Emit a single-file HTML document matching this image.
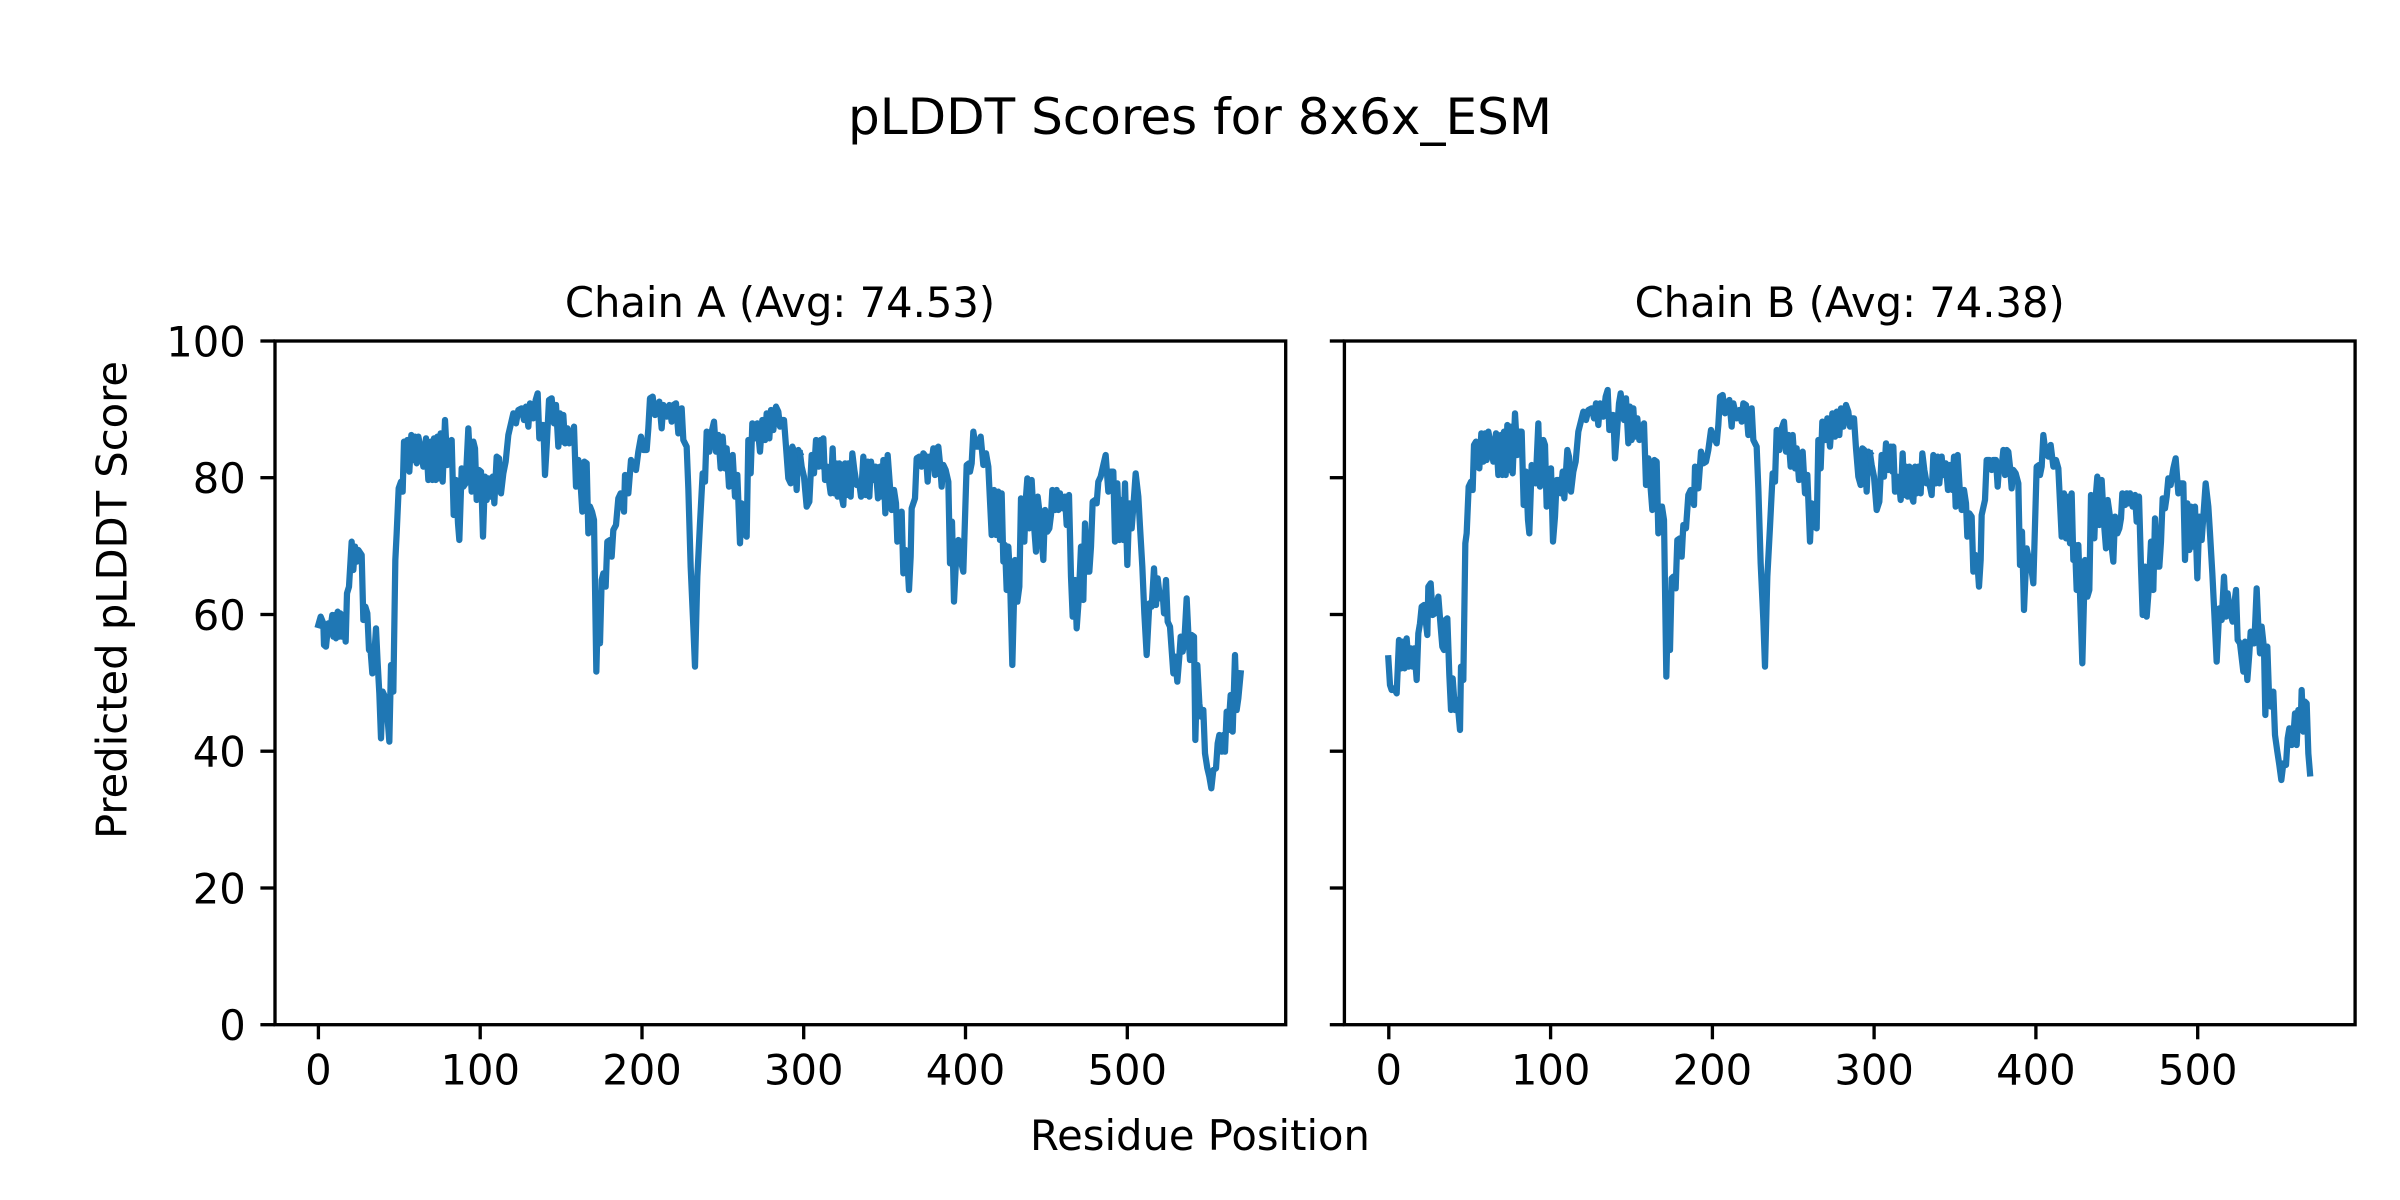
<!DOCTYPE html>
<html>
<head>
<meta charset="utf-8">
<style>
html,body{margin:0;padding:0;background:#fff;}
svg{display:block;}
text{font-family:"DejaVu Sans","Liberation Sans",sans-serif;fill:#000;}
</style>
</head>
<body>
<svg width="2400" height="1200" viewBox="0 0 2400 1200" xmlns="http://www.w3.org/2000/svg">
<rect x="0" y="0" width="2400" height="1200" fill="#fff"/>

<!-- Suptitle -->
<text x="1200" y="134" font-size="50" text-anchor="middle">pLDDT Scores for 8x6x_ESM</text>

<!-- Axes titles -->
<text x="780" y="317" font-size="41.67" text-anchor="middle">Chain A (Avg: 74.53)</text>
<text x="1849.7" y="317" font-size="41.67" text-anchor="middle">Chain B (Avg: 74.38)</text>

<!-- Sup labels -->
<text x="1200" y="1150" font-size="41.67" text-anchor="middle">Residue Position</text>
<text transform="translate(126.7,600) rotate(-90)" font-size="41.67" text-anchor="middle">Predicted pLDDT Score</text>

<!-- Data lines: left -->
<g fill="none" stroke="#1f77b4" stroke-linejoin="round" stroke-linecap="square">
<g transform="translate(300,360) scale(0.333333)">
<polyline stroke-width="18.75" points="55,795 62,770 70,790 72,855 78,860 85,790 92,800 97,765 100,830 104,765 108,835 113,755 118,830 121,760 126,830 130,765 137,845 141,700 147,680 155,545 160,630 165,560 170,605 175,570 185,585 190,780 196,740 202,760 207,870 212,875 217,940 222,900 228,805 233,910 238,1000 243,1135 248,995 255,1010 262,1065 268,1145 273,915 280,995 286,600 290,520 296,385 303,365 308,395 312,245 318,320 322,240 328,335 334,225 340,300 345,230 350,310 355,230 362,265 370,320 378,235 385,360 392,245 397,360 402,235 407,360 412,230 418,355 422,220 428,365 435,180 442,315 447,245 455,240 461,465 468,360 474,490 478,540 485,325 490,380 497,370 505,205 510,300 515,395 520,245 525,265 530,420 537,330 543,335 549,530 555,350 560,420 565,355 572,410 578,350 583,430 590,290 597,295 603,400 610,340 617,305 625,225 640,160 648,190 655,150 665,145 672,180 678,140 685,200 690,130 700,175 707,120 713,100 718,235 725,195 730,195 735,345 740,260 747,120 755,115 762,190 768,135 775,260 780,160 785,245 790,165 795,250 802,205 808,250 815,235 822,200 828,380 835,300 842,375 847,455 853,305 860,310 865,520 870,440 876,455 882,480 889,935 895,700 900,850 905,660 910,640 917,680 922,545 930,540 935,590 940,510 948,495 955,415 962,400 972,455 975,345 985,400 993,300 1000,315 1008,330 1015,275 1023,230 1030,270 1040,270 1045,205 1050,115 1058,110 1065,165 1078,125 1085,205 1090,135 1100,170 1108,135 1115,185 1120,135 1128,130 1135,220 1145,145 1150,240 1160,260 1165,385 1172,620 1180,800 1185,920 1192,650 1200,490 1208,340 1215,365 1220,215 1228,275 1235,215 1242,185 1248,275 1255,225 1262,325 1268,230 1275,325 1280,265 1287,380 1293,340 1298,285 1305,410 1312,345 1320,550 1325,430 1333,520 1340,530 1345,240 1352,340 1357,190 1365,235 1372,190 1380,275 1387,180 1395,240 1400,160 1408,235 1413,150 1420,210 1428,140 1435,155 1440,200 1445,180 1452,180 1458,260 1465,355 1472,370 1477,260 1483,275 1490,390 1495,270 1500,280"/>
</g>
<g transform="translate(790,360) scale(0.333333)">
<polyline stroke-width="18.75" points="30,280 35,320 42,350 50,440 58,425 65,285 72,340 78,240 85,320 92,240 97,320 100,235 105,360 112,320 118,370 122,400 128,265 133,400 138,310 143,410 148,310 155,410 160,435 165,310 170,405 175,310 182,410 187,280 193,330 200,375 208,370 213,410 220,290 227,405 233,305 238,410 243,305 250,360 257,320 264,415 270,320 277,410 280,300 286,460 293,285 300,380 305,450 312,390 318,430 322,545 328,460 335,455 340,640 346,570 352,600 357,690 362,590 365,445 375,415 380,295 388,290 395,320 400,280 408,290 413,365 418,290 425,305 430,265 435,345 440,265 445,260 450,310 455,380 460,315 467,330 475,365 480,610 486,485 492,725 500,560 505,540 512,600 520,635 530,315 537,310 540,335 545,310 550,215 557,260 565,260 572,230 580,315 588,280 595,320 605,525 612,390 618,525 625,395 630,540 635,400 640,605 645,555 650,690 655,560 660,650 667,915 675,600 682,725 688,680 693,415 698,510 703,545 708,410 712,355 718,505 725,360 732,495 738,575 743,410 750,470 755,540 760,600 765,450 772,515 778,505 783,465 787,390 795,450 800,390 805,450 810,400 818,445 825,410 830,495 837,405 843,650 848,770 855,660 860,805 866,720 873,560 880,720 885,490 892,635 898,635 903,560 908,425 915,420 920,430 925,365 932,350 940,315 947,285 955,395 962,335 970,335 975,545 982,370 988,540 993,420 1000,540 1005,370 1012,615 1018,430 1025,505 1030,440 1037,340 1045,410 1050,500 1057,620 1063,760 1070,885 1078,730 1085,740 1092,625 1098,735 1103,655 1110,715 1118,700 1122,760 1128,660 1133,785 1140,800 1150,940 1155,890 1162,965 1168,890 1172,830 1178,875 1183,845 1190,715 1195,820 1200,900 1205,825 1212,830 1216,1140 1222,915 1228,1030 1233,1070 1240,1050 1245,1180 1252,1225 1258,1250 1264,1285 1270,1230 1278,1225 1283,1150 1288,1125 1295,1175 1300,1125 1305,1175 1310,1055 1315,1110 1322,1005 1328,1115 1335,885 1340,1050 1345,1015 1352,940"/>
</g>

<!-- Data lines: right -->
<g transform="translate(1370,360) scale(0.333333)">
<polyline stroke-width="18.75" points="55,895 60,975 65,990 72,985 80,1000 87,840 93,925 100,845 104,925 110,835 116,920 122,865 128,920 133,865 140,960 145,820 150,790 155,740 162,735 168,790 172,825 175,680 182,670 188,765 195,760 200,730 205,710 212,800 217,860 222,870 226,780 232,775 238,945 243,1050 248,955 255,1050 262,1020 270,1110 273,920 280,960 286,550 290,520 296,380 303,365 308,390 312,255 318,245 322,320 328,325 334,220 340,305 345,220 350,300 355,215 362,250 370,305 378,220 385,345 392,225 397,345 402,215 407,345 412,195 418,330 422,200 428,340 435,160 442,285 447,215 455,215 461,435 468,335 474,480 478,520 485,315 490,365 497,370 505,190 510,380 515,245 520,240 525,255 530,440 537,330 543,325 549,545 555,470 560,360 565,360 572,400 578,335 583,415 592,270 597,290 603,395 610,335 617,305 625,215 640,155 648,180 655,150 665,145 672,175 678,130 685,195 690,130 700,170 707,110 713,90 718,210 725,165 730,165 735,295 740,230 747,130 752,100 762,180 768,115 775,250 780,140 785,240 790,145 795,230 802,175 808,240 815,210 822,190 828,375 835,295 842,385 847,450 853,300 860,305 865,520 870,440 876,440 882,480 889,950 895,700 900,870 905,655 910,650 917,685 922,540 930,535 935,590 940,495 948,505 955,405 962,390 972,435 975,320 985,385 993,275 1000,310 1008,305 1015,270 1023,210 1030,230 1040,250 1045,195 1050,110 1058,105 1065,160 1078,120 1085,200 1090,130 1100,175 1108,150 1115,185 1120,130 1128,135 1135,225 1145,145 1150,240 1160,260 1165,385 1172,610 1180,780 1185,920 1192,650 1200,500 1208,340 1215,365 1220,210 1228,270 1235,205 1242,185 1248,275 1255,225 1262,320 1268,225 1275,325 1280,265 1287,360 1293,280 1298,275 1305,400 1312,345 1320,545 1325,430 1333,500 1340,505 1345,240 1352,325 1357,185 1365,240 1372,175 1380,260 1387,160 1395,230 1400,155 1408,225 1413,145 1420,200 1428,135 1435,155 1440,200 1445,175 1452,175 1458,265 1465,350 1472,375 1477,265 1483,270 1490,395 1495,275 1500,280"/>
</g>
<g transform="translate(1860,360) scale(0.333333)">
<polyline stroke-width="18.75" points="30,280 35,315 42,350 50,450 58,425 65,285 72,350 78,250 85,330 92,260 97,335 100,260 105,395 112,350 118,375 122,420 128,280 133,405 138,320 143,410 148,320 155,410 160,425 165,320 170,400 175,320 182,400 187,280 193,330 200,370 208,370 215,405 220,285 227,370 233,290 238,370 245,290 250,345 257,310 264,390 270,315 277,390 282,290 287,440 293,285 300,400 305,450 312,390 318,430 322,530 328,460 335,470 340,635 346,585 352,605 357,680 362,600 365,465 375,420 380,300 388,300 395,330 400,300 408,300 413,380 418,310 425,320 430,270 435,345 440,270 445,275 450,320 455,385 460,330 467,340 475,370 480,615 486,515 492,750 500,565 505,590 512,610 520,670 530,320 537,315 540,345 545,320 550,225 557,280 565,290 572,255 580,320 588,300 595,325 605,530 612,400 618,535 625,410 630,550 635,400 640,600 645,555 650,690 655,555 660,700 667,910 675,600 682,710 688,690 693,405 698,530 703,535 708,400 712,350 718,495 725,360 732,490 738,565 743,420 750,470 755,560 760,605 765,470 772,520 778,505 783,475 787,400 795,435 800,400 805,430 810,400 818,440 825,405 830,485 837,410 843,620 848,765 855,620 860,770 866,690 873,545 880,690 885,475 892,620 898,620 903,545 908,415 915,445 920,410 925,355 932,375 940,325 947,295 955,400 962,370 970,370 975,600 982,430 988,570 993,440 1000,560 1005,440 1012,655 1018,470 1025,540 1030,470 1037,370 1045,440 1050,520 1057,640 1063,760 1070,905 1078,745 1085,780 1092,650 1098,770 1103,700 1110,755 1118,785 1122,740 1128,690 1133,840 1140,850 1150,935 1155,845 1162,960 1168,880 1172,815 1178,850 1183,850 1190,685 1195,800 1200,880 1205,800 1212,865 1216,1065 1222,860 1228,1035 1233,1040 1240,995 1245,1125 1252,1175 1258,1215 1264,1260 1270,1210 1278,1215 1283,1135 1288,1105 1295,1155 1300,1130 1305,1060 1310,1155 1315,1050 1322,1095 1325,990 1330,1115 1335,1025 1340,1030 1345,1180 1350,1240"/>
</g>
</g>

<!-- Spines -->
<rect x="275" y="341" width="1010.7" height="683.7" fill="none" stroke="#000" stroke-width="3.33" stroke-linejoin="miter"/>
<rect x="1344.4" y="341" width="1010.7" height="683.7" fill="none" stroke="#000" stroke-width="3.33" stroke-linejoin="miter"/>

<!-- Y ticks -->
<g stroke="#000" stroke-width="3.33">
<line x1="260.4" y1="1024.7" x2="275" y2="1024.7"/>
<line x1="260.4" y1="888" x2="275" y2="888"/>
<line x1="260.4" y1="751.2" x2="275" y2="751.2"/>
<line x1="260.4" y1="614.5" x2="275" y2="614.5"/>
<line x1="260.4" y1="477.7" x2="275" y2="477.7"/>
<line x1="260.4" y1="341" x2="275" y2="341"/>
<line x1="1329.8" y1="1024.7" x2="1344.4" y2="1024.7"/>
<line x1="1329.8" y1="888" x2="1344.4" y2="888"/>
<line x1="1329.8" y1="751.2" x2="1344.4" y2="751.2"/>
<line x1="1329.8" y1="614.5" x2="1344.4" y2="614.5"/>
<line x1="1329.8" y1="477.7" x2="1344.4" y2="477.7"/>
<line x1="1329.8" y1="341" x2="1344.4" y2="341"/>
</g>

<!-- X ticks -->
<g stroke="#000" stroke-width="3.33">
<line x1="318.4" y1="1024.7" x2="318.4" y2="1039.3"/>
<line x1="480.2" y1="1024.7" x2="480.2" y2="1039.3"/>
<line x1="642" y1="1024.7" x2="642" y2="1039.3"/>
<line x1="803.7" y1="1024.7" x2="803.7" y2="1039.3"/>
<line x1="965.5" y1="1024.7" x2="965.5" y2="1039.3"/>
<line x1="1127.3" y1="1024.7" x2="1127.3" y2="1039.3"/>
<line x1="1388.8" y1="1024.7" x2="1388.8" y2="1039.3"/>
<line x1="1550.6" y1="1024.7" x2="1550.6" y2="1039.3"/>
<line x1="1712.4" y1="1024.7" x2="1712.4" y2="1039.3"/>
<line x1="1874.1" y1="1024.7" x2="1874.1" y2="1039.3"/>
<line x1="2035.9" y1="1024.7" x2="2035.9" y2="1039.3"/>
<line x1="2197.7" y1="1024.7" x2="2197.7" y2="1039.3"/>
</g>

<!-- Y tick labels -->
<g font-size="41.67" text-anchor="end">
<text x="245.8" y="1040.2">0</text>
<text x="245.8" y="903.5">20</text>
<text x="245.8" y="766.7">40</text>
<text x="245.8" y="630">60</text>
<text x="245.8" y="493.2">80</text>
<text x="245.8" y="356.5">100</text>
</g>

<!-- X tick labels -->
<g font-size="41.67" text-anchor="middle">
<text x="318.4" y="1084.5">0</text>
<text x="480.2" y="1084.5">100</text>
<text x="642" y="1084.5">200</text>
<text x="803.7" y="1084.5">300</text>
<text x="965.5" y="1084.5">400</text>
<text x="1127.3" y="1084.5">500</text>
<text x="1388.8" y="1084.5">0</text>
<text x="1550.6" y="1084.5">100</text>
<text x="1712.4" y="1084.5">200</text>
<text x="1874.1" y="1084.5">300</text>
<text x="2035.9" y="1084.5">400</text>
<text x="2197.7" y="1084.5">500</text>
</g>
</svg>
</body>
</html>
